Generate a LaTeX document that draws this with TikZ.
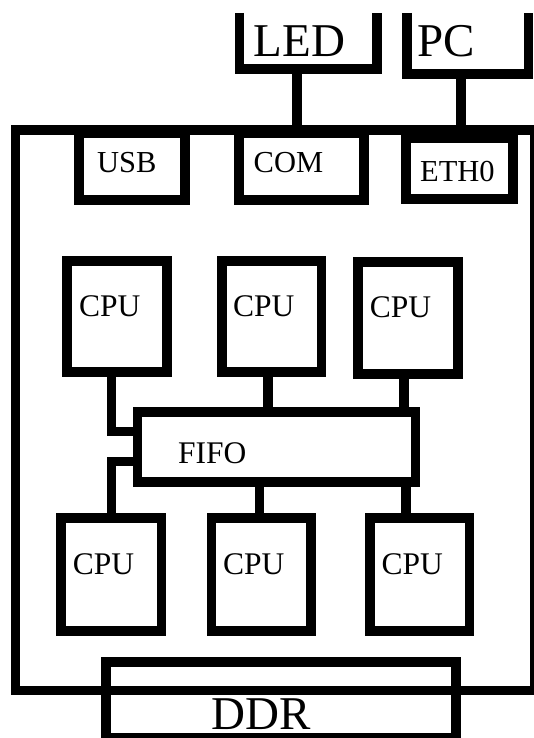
\documentclass[tikz,border=0pt]{standalone}
\usepackage{fontspec}
\setmainfont{Liberation Serif}
\usepackage{tikz}
\usetikzlibrary{positioning, calc}
\tikzstyle{unit} = [rectangle, draw=black, line width=9.5pt, inner sep=0pt]
\tikzstyle{open} = [rectangle, inner sep=0pt]
\tikzstyle{link} = [line width=9.5pt]
\tikzstyle{bigtext} = [anchor=base west, inner sep=0pt, font=\fontsize{47}{47}\selectfont]
\tikzstyle{smalltext} = [anchor=base west, inner sep=0pt, font=\fontsize{30.5}{30.5}\selectfont]
\tikzstyle{cputext} = [anchor=base west, inner sep=0pt, font=\fontsize{31.5}{31.5}\selectfont]

\begin{document}
\begin{tikzpicture}[x=1pt, y=-1pt]
    \useasboundingbox[fill=white] (0,0) rectangle (534,738);

    % Board
    \node[unit, minimum width=519.7pt, minimum height=560.5pt] (board) at (275.2, 410.25) {};

    % Outside devices (tops cut off)
    \node[open, minimum width=137.5pt, minimum height=56pt] (led) at (308.25, 41) {};
    \node[open, minimum width=121.5pt, minimum height=61pt] (pc) at (467.75, 43.5) {};
    \draw[link] (led.north west) -- (led.south west) -- (led.south east) -- (led.north east);
    \draw[link] (pc.north west) -- (pc.south west) -- (pc.south east) -- (pc.north east);
    \node[bigtext] (ledtext) at (253.5, 57) {LED};
    \node[bigtext] (pctext) at (417, 57) {PC};

    % Ports
    \node[unit, minimum width=106pt, minimum height=67pt] (usb) at (132, 166.5) {};
    \node[unit, minimum width=125pt, minimum height=67pt] (com) at (301.5, 166.5) {};
    \node[unit, minimum width=107pt, minimum height=61pt] (eth) at (459.5, 168.5) {};
    \node[smalltext] (usbtext) at (97, 172) {USB};
    \node[smalltext] (comtext) at (253.5, 172) {COM};
    \node[smalltext] (ethtext) at (420, 182) {ETH0};

    % Upper CPUs
    \node[unit, minimum width=100pt, minimum height=111pt] (cpua) at (117, 316.5) {};
    \node[unit, minimum width=99.5pt, minimum height=111pt] (cpub) at (271.75, 316.5) {};
    \node[unit, minimum width=100pt, minimum height=112pt] (cpuc) at (408, 318) {};
    \node[cputext] (cpuatext) at (79, 316) {CPU};
    \node[cputext] (cpubtext) at (233, 316) {CPU};
    \node[cputext] (cpuctext) at (369.6, 317) {CPU};

    % FIFO
    \node[unit, minimum width=278pt, minimum height=70pt] (fifo) at (276.5, 447) {};
    \node[cputext] (fifotext) at (178, 463) {FIFO};

    % Lower CPUs
    \node[unit, minimum width=100.5pt, minimum height=113pt] (cpud) at (111.25, 574.5) {};
    \node[unit, minimum width=99.5pt, minimum height=113pt] (cpue) at (261.25, 574.5) {};
    \node[unit, minimum width=99.5pt, minimum height=113pt] (cpuf) at (419.75, 574.5) {};
    \node[cputext] (cpudtext) at (72.6, 574) {CPU};
    \node[cputext] (cpuetext) at (223, 574) {CPU};
    \node[cputext] (cpuftext) at (381.5, 574) {CPU};

    % DDR
    \node[unit, minimum width=350pt, minimum height=76pt] (ddr) at (281, 700) {};
    \node[bigtext] (ddrtext) at (211, 729) {DDR};

    % Links
    \draw[link] ([xshift=-11.25pt]led.south) -- ([xshift=-11.25pt]led.south |- com.north);
    \draw[link] ([xshift=-6.75pt]pc.south) -- ([xshift=-6.75pt]pc.south |- eth.north);
    \draw[link] ([xshift=-5.5pt]cpua.south) |- ([yshift=15.5pt]fifo.west);
    \draw[link] ([xshift=-3.75pt]cpub.south) -- ([xshift=-3.75pt]cpub.south |- fifo.north);
    \draw[link] ([xshift=-4pt]cpuc.south) -- ([xshift=-4pt]cpuc.south |- fifo.north);
    \draw[link] ([xshift=6.5pt, yshift=-14.5pt]fifo.west) -| ([yshift=-6pt]cpud.north);
    \draw[link] ([xshift=-1.75pt]cpue.north) -- ([xshift=-1.75pt]cpue.north |- fifo.south);
    \draw[link] ([xshift=-14pt]cpuf.north) -- ([xshift=-14pt]cpuf.north |- fifo.south);
\end{tikzpicture}
\end{document}
